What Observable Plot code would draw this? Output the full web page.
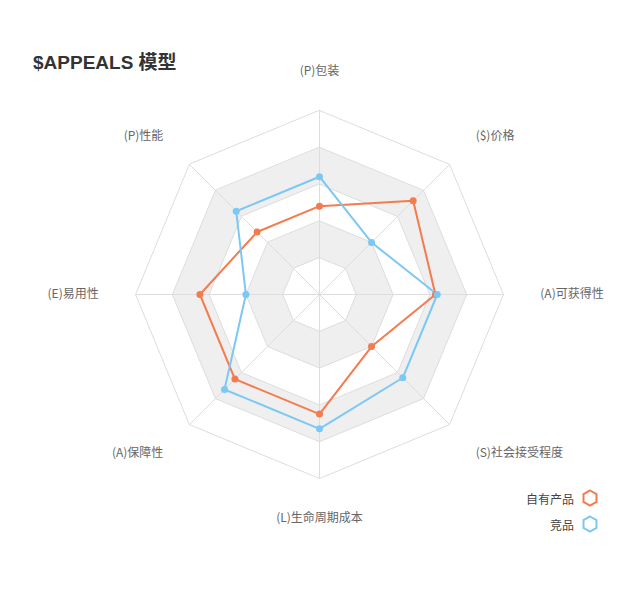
<!DOCTYPE html>
<html>
<head>
<meta charset="utf-8">
<script src="https://cdn.jsdelivr.net/npm/d3@7"></script>
<script src="https://cdn.jsdelivr.net/npm/@observablehq/plot@0.6"></script>
<style>
  html, body { margin: 0; padding: 0; background: #fff; }
  #wrap { position: relative; width: 640px; height: 593px; font-family: "Noto Sans CJK SC", "Liberation Sans", sans-serif; }
  #title { position: absolute; left: 33px; top: 47px; font-size: 19px; font-weight: bold; color: #333; font-family: "Liberation Sans", "Noto Sans CJK SC", sans-serif; }
  .leg { position: absolute; right: 42px; font-size: 12px; color: #444; display: flex; align-items: center; gap: 8px; }
  .leg svg { display: block; }
</style>
</head>
<body>
<div id="wrap">
  <div id="chart"></div>
  <div id="title">$APPEALS 模型</div>
  <div class="leg" style="top:489px"><span>自有产品</span><svg width="16" height="18"><polygon points="8,1.5 14.5,5.2 14.5,12.8 8,16.5 1.5,12.8 1.5,5.2" fill="none" stroke="#f47b4e" stroke-width="2"/></svg></div>
  <div class="leg" style="top:515px"><span>竞品</span><svg width="16" height="18"><polygon points="8,1.5 14.5,5.2 14.5,12.8 8,16.5 1.5,12.8 1.5,5.2" fill="none" stroke="#7cc8f4" stroke-width="2"/></svg></div>
</div>
<script>
const axes = ["(P)包装", "($)价格", "(A)可获得性", "(S)社会接受程度", "(L)生命周期成本", "(A)保障性", "(E)易用性", "(P)性能"];
const ownValues = [48, 72, 63, 40, 65, 65, 65, 48];
const rivalValues = [64, 40, 64, 64, 73, 73, 40, 64];
const seriesNames = ["自有产品", "竞品"];
const seriesColors = ["#f47b4e", "#7cc8f4"];
const maxValue = 100;
const ringLevels = [20, 40, 60, 80, 100];

const n = axes.length;
const ang = i => (2 * Math.PI * i) / n;
const px = (v, i) => (v / maxValue) * Math.sin(ang(i));
const py = (v, i) => (v / maxValue) * Math.cos(ang(i));

const ringPts = [];
ringLevels.forEach(lv => axes.forEach((a, i) => ringPts.push({ring: lv, x: px(lv, i), y: py(lv, i)})));
const bandFill = {100: "#ffffff", 80: "#efefef", 60: "#ffffff", 40: "#efefef", 20: "#ffffff"};
const ringsDesc = [...ringLevels].sort((a, b) => b - a);
const bandPts = ringsDesc.flatMap(lv => ringPts.filter(d => d.ring === lv));

const spokes = axes.map((a, i) => ({x1: 0, y1: 0, x2: px(maxValue, i), y2: py(maxValue, i)}));

const labels = axes.map((a, i) => {
  const s = Math.sin(ang(i)), c = Math.cos(ang(i));
  return {name: a, x: px(120, i), y: py(120, i), dy: -c * 3,
    anchor: Math.abs(s) < 1e-6 ? "middle" : (s > 0 ? "start" : "end")};
});

const seriesData = [];
[ownValues, rivalValues].forEach((vals, k) => vals.forEach((v, i) => seriesData.push({series: seriesNames[k], axis: axes[i], value: v, x: px(v, i), y: py(v, i)})));

const cx = 319, cy = 294, R = 184;
const plot = Plot.plot({
  width: 640,
  height: 593,
  margin: 0,
  x: {domain: [-1, 1], range: [cx - R, cx + R], axis: null},
  y: {domain: [-1, 1], range: [cy + R, cy - R], axis: null},
  color: {domain: seriesNames, range: seriesColors},
  style: {fontFamily: "'Noto Sans CJK SC', 'Liberation Sans', sans-serif"},
  marks: [
    Plot.line(bandPts, {x: "x", y: "y", z: "ring", curve: "linear-closed", fill: d => bandFill[d.ring], stroke: "none"}),
    Plot.line(ringPts, {x: "x", y: "y", z: "ring", curve: "linear-closed", stroke: "#dddddd", strokeWidth: 1}),
    Plot.link(spokes, {x1: "x1", y1: "y1", x2: "x2", y2: "y2", stroke: "#dddddd", strokeWidth: 1}),
    Plot.line(seriesData, {x: "x", y: "y", z: "series", stroke: "series", curve: "linear-closed", strokeWidth: 2}),
    Plot.dot(seriesData, {x: "x", y: "y", fill: "series", r: 3.5, stroke: null}),
    ...labels.map(d => Plot.text([d], {x: "x", y: "y", text: "name", textAnchor: d.anchor, dy: d.dy, fill: "#666", fontSize: 12}))
  ]
});
document.getElementById("chart").appendChild(plot);
</script>
</body>
</html>
